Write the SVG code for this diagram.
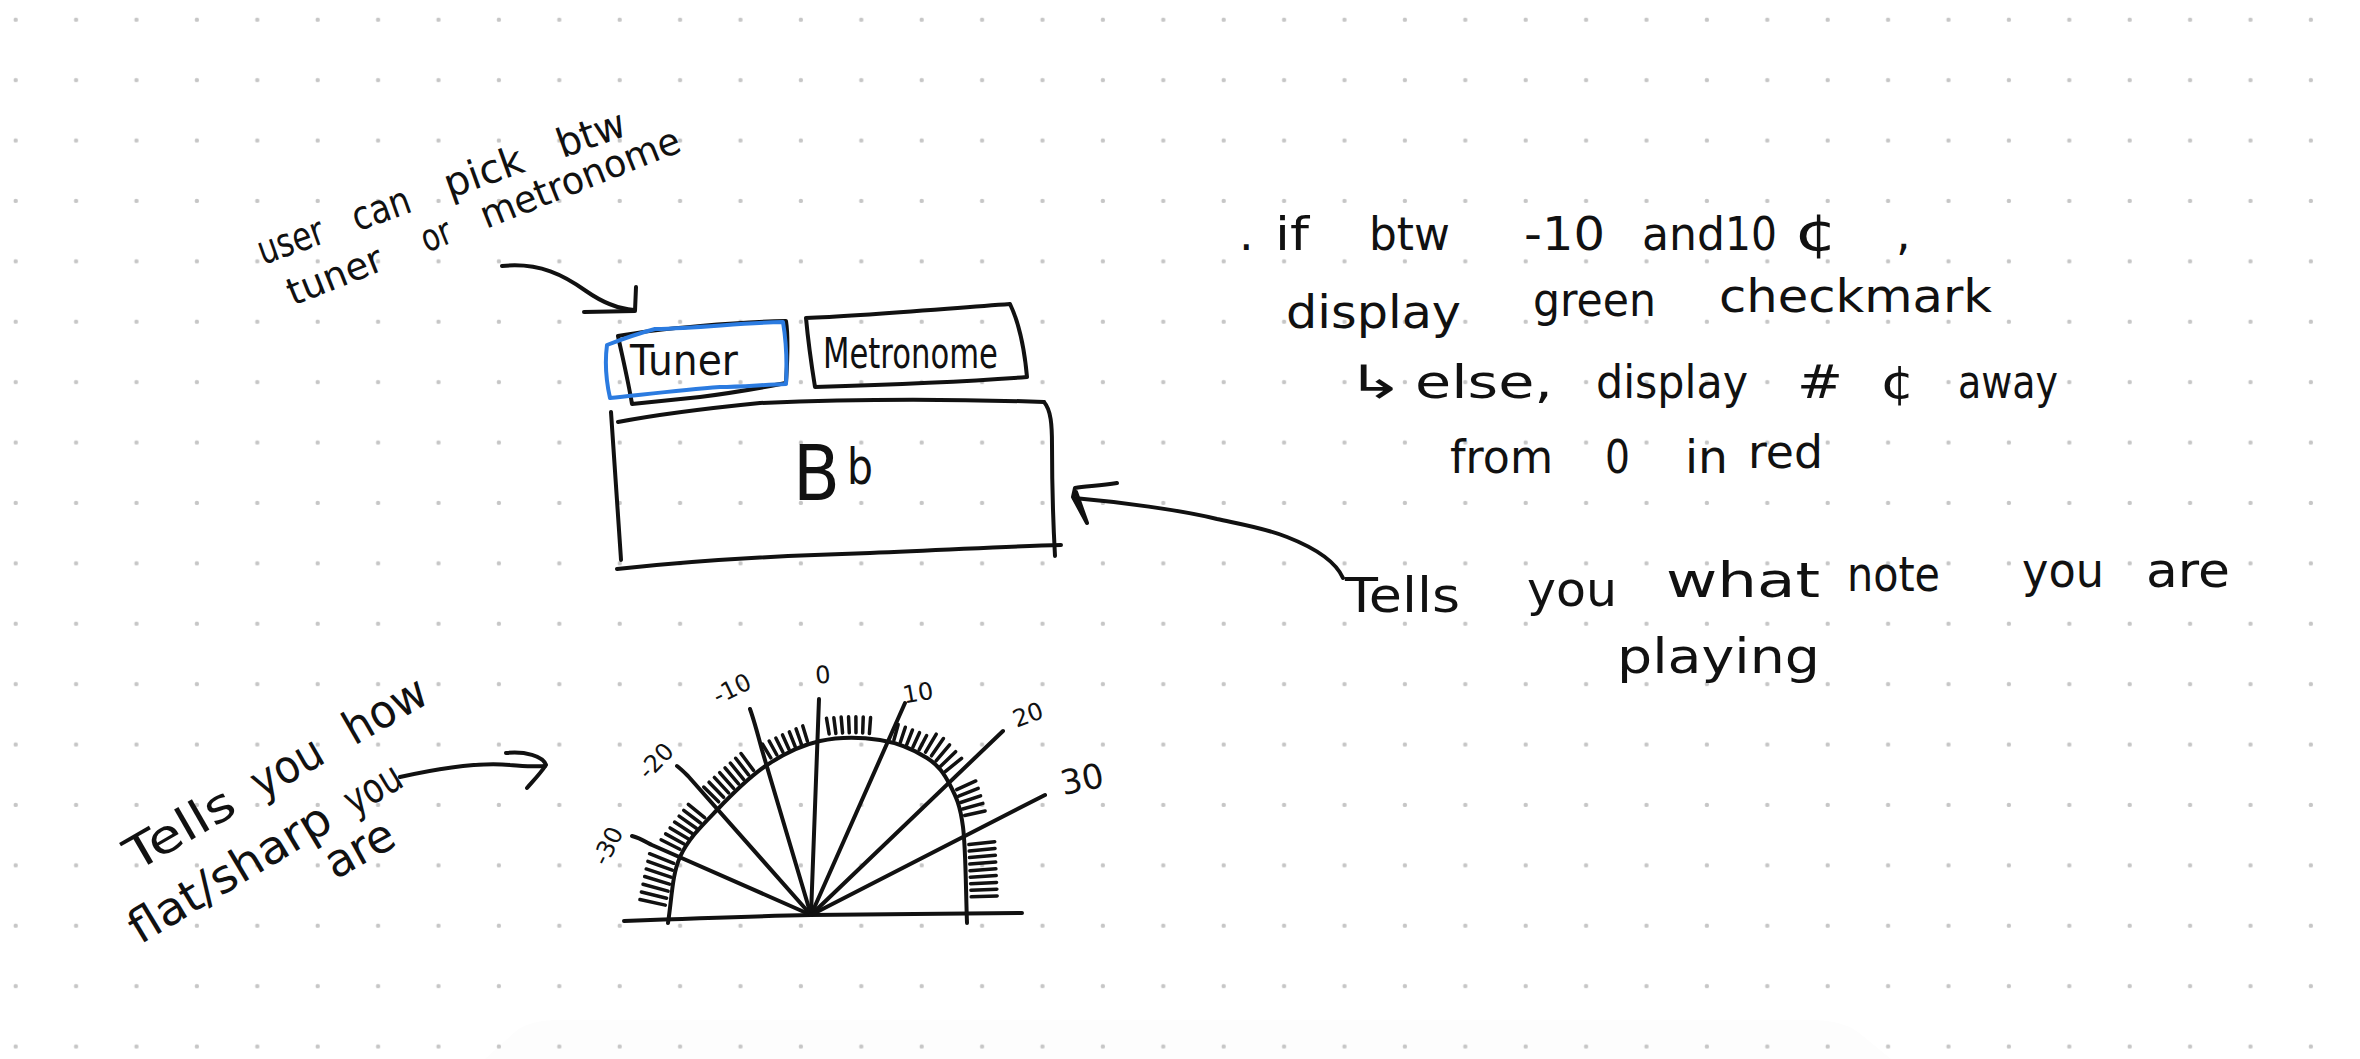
<svg xmlns="http://www.w3.org/2000/svg" width="2360" height="1059" viewBox="0 0 2360 1059">
<defs>
<pattern id="dots" width="60.4" height="60.4" patternUnits="userSpaceOnUse"><circle cx="15.7" cy="19.7" r="2.2" fill="#c6c6c6"/></pattern>
<line id="tkS" class="tick" x1="0" y1="-5" x2="0" y2="-21"/>
<line id="tkM" class="tick" x1="0" y1="-5" x2="0" y2="-26"/>
<line id="tkL" class="tick" x1="0" y1="-5" x2="0" y2="-31"/>
</defs>
<style>
.ink{fill:none;stroke:#111;stroke-width:4;stroke-linecap:round;stroke-linejoin:round}
.blue{fill:none;stroke:#2b7be0;stroke-width:4;stroke-linecap:round;stroke-linejoin:round}
.tick{stroke:#111;stroke-width:3.5;stroke-linecap:round}
.hw{font-family:"DejaVu Sans","Liberation Sans",sans-serif;fill:#111}
</style>
<rect width="2360" height="1059" fill="#ffffff"/>
<path d="M485,1059 L515,1032 Q528,1020 560,1020 L1810,1020 Q1842,1020 1858,1032 L1891,1059 Z" fill="#fdfdfd"/>
<rect width="2360" height="1059" fill="url(#dots)"/>

<g id="note-user-pick">
<text class="hw" font-size="40" transform="translate(263,265) rotate(-19.6)"><tspan x="0" textLength="68" lengthAdjust="spacingAndGlyphs">user</tspan> <tspan x="100" textLength="60" lengthAdjust="spacingAndGlyphs">can</tspan> <tspan x="198" textLength="82" lengthAdjust="spacingAndGlyphs">pick</tspan> <tspan x="318" textLength="70" lengthAdjust="spacingAndGlyphs">btw</tspan></text>
<text class="hw" font-size="38" transform="translate(293,306) rotate(-21.7)"><tspan x="0" textLength="100" lengthAdjust="spacingAndGlyphs">tuner</tspan> <tspan x="144" textLength="30" lengthAdjust="spacingAndGlyphs">or</tspan> <tspan x="208" textLength="212" lengthAdjust="spacingAndGlyphs">metronome</tspan></text>
</g>

<g id="tab-tuner">
<path class="ink" d="M618,336 C660,328 740,322 786,321 C789,340 787,365 786,383 C760,388 740,392 700,397 C670,400 650,402 632,404 C628,380 622,355 618,336"/>
<path class="blue" d="M607,345 C625,338 640,333 655,329 C700,328 740,323 783,322 C786,340 787,365 786,384 C760,385 740,387 720,387 C680,390 640,395 610,398 C606,380 605,360 607,345 Z"/>
<text class="hw" x="630" y="375" font-size="42" textLength="108" lengthAdjust="spacingAndGlyphs">Tuner</text>
</g>

<g id="tab-metronome">
<path class="ink" d="M806,318 C860,316 940,309 1010,304 C1020,325 1025,355 1027,377 C960,382 880,385 815,387 C811,362 808,340 806,318"/>
<text class="hw" x="823" y="368" font-size="43" textLength="175" lengthAdjust="spacingAndGlyphs">Metronome</text>
</g>

<g id="note-display">
<path class="ink" d="M618,422 C660,414 700,409 760,403 C850,399 960,399 1044,402"/>
<path class="ink" d="M1044,402 C1051,410 1052,425 1052,445 C1052,485 1053,520 1055,556"/>
<path class="ink" d="M611,412 C614,460 618,510 621,560"/>
<path class="ink" d="M617,569 C700,560 800,555 870,553 C950,550 1010,546 1061,545"/>
<text class="hw" y="500"><tspan x="793" font-size="76" textLength="47" lengthAdjust="spacingAndGlyphs">B</tspan><tspan x="847" y="484" font-size="50" textLength="26" lengthAdjust="spacingAndGlyphs">b</tspan></text>
</g>

<g id="gauge">
<path class="ink" d="M624,921 C700,918 760,916 811,915 L1022,913"/>
<path class="ink" d="M668,923 C672,897 672,875 680,857 C688,839 702.5,825 717,810 C731.5,794.7 749.8,776.5 767,765 C784.2,753.5 801.2,745.2 820,741 C838.8,736.8 862.2,737.2 880,740 C897.8,742.8 915.3,750.5 927,758 C938.7,765.5 944,773.5 950,785 C956,796.5 960.2,805 963,827 C965.8,849 965.7,887 967,923"/>
<path class="ink" d="M632,836 C640,838 646,842 652,845 L811,915"/>
<path class="ink" d="M677,766 C681,769 684,772 688,776 L811,915"/>
<path class="ink" d="M750,709 C754,720 758,735 762,750 L811,915"/>
<path class="ink" d="M819,699 L816,780 L811,915"/>
<path class="ink" d="M905,703 L811,915"/>
<path class="ink" d="M1003,731 L811,915"/>
<path class="ink" d="M1045,795 L811,915"/>
<g id="gauge-ticks">
<use href="#tkL" transform="translate(670.2,906.2) rotate(-77.6)"/>
<use href="#tkL" transform="translate(671.5,899.4) rotate(-76.1)"/>
<use href="#tkL" transform="translate(672.9,892.5) rotate(-74.6)"/>
<use href="#tkL" transform="translate(674.3,885.6) rotate(-73)"/>
<use href="#tkL" transform="translate(675.6,878.8) rotate(-71.5)"/>
<use href="#tkL" transform="translate(677,871.9) rotate(-70)"/>
<use href="#tkL" transform="translate(678.4,865.1) rotate(-68.5)"/>
<use href="#tkM" transform="translate(684.3,851.5) rotate(-63.2)"/>
<use href="#tkM" transform="translate(688.4,846.4) rotate(-61.2)"/>
<use href="#tkM" transform="translate(692.4,841.3) rotate(-59.1)"/>
<use href="#tkM" transform="translate(696.4,836.2) rotate(-57.1)"/>
<use href="#tkM" transform="translate(700.4,831.1) rotate(-55)"/>
<use href="#tkM" transform="translate(704.5,826) rotate(-53)"/>
<use href="#tkM" transform="translate(708.5,820.8) rotate(-50.9)"/>
<use href="#tkM" transform="translate(722.2,805.3) rotate(-45.3)"/>
<use href="#tkM" transform="translate(727.1,800.9) rotate(-44)"/>
<use href="#tkM" transform="translate(732,796.5) rotate(-42.8)"/>
<use href="#tkM" transform="translate(736.9,792.1) rotate(-41.5)"/>
<use href="#tkM" transform="translate(741.8,787.7) rotate(-40.2)"/>
<use href="#tkM" transform="translate(746.7,783.2) rotate(-39)"/>
<use href="#tkM" transform="translate(751.6,778.8) rotate(-37.7)"/>
<use href="#tkM" transform="translate(756.5,774.4) rotate(-36.5)"/>
<use href="#tkS" transform="translate(773.4,762.1) rotate(-31.2)"/>
<use href="#tkS" transform="translate(779.3,759.4) rotate(-28.9)"/>
<use href="#tkS" transform="translate(785.2,756.8) rotate(-26.5)"/>
<use href="#tkS" transform="translate(791.1,754.1) rotate(-24.1)"/>
<use href="#tkS" transform="translate(797.1,751.4) rotate(-21.7)"/>
<use href="#tkS" transform="translate(803,748.7) rotate(-19.3)"/>
<use href="#tkS" transform="translate(808.9,746) rotate(-17)"/>
<use href="#tkS" transform="translate(830,739) rotate(-9.6)"/>
<use href="#tkS" transform="translate(836.5,738.5) rotate(-7.3)"/>
<use href="#tkS" transform="translate(843,738) rotate(-5)"/>
<use href="#tkS" transform="translate(849.5,737.8) rotate(-2.6)"/>
<use href="#tkS" transform="translate(856,737.8) rotate(-0.3)"/>
<use href="#tkS" transform="translate(862.5,738) rotate(2)"/>
<use href="#tkS" transform="translate(869,738.5) rotate(4.3)"/>
<use href="#tkS" transform="translate(892.6,744.8) rotate(15.4)"/>
<use href="#tkS" transform="translate(898.7,747.2) rotate(18.4)"/>
<use href="#tkS" transform="translate(904.8,749.5) rotate(21.5)"/>
<use href="#tkS" transform="translate(910.8,751.8) rotate(24.5)"/>
<use href="#tkS" transform="translate(916.9,754.1) rotate(27.6)"/>
<use href="#tkM" transform="translate(923,756.5) rotate(30.7)"/>
<use href="#tkM" transform="translate(928.6,759.9) rotate(34.8)"/>
<use href="#tkM" transform="translate(932.8,764.8) rotate(40.2)"/>
<use href="#tkM" transform="translate(937,769.8) rotate(45.7)"/>
<use href="#tkM" transform="translate(941.3,774.7) rotate(51.1)"/>
<use href="#tkM" transform="translate(952.1,791.7) rotate(65.6)"/>
<use href="#tkM" transform="translate(954,797.9) rotate(68.6)"/>
<use href="#tkM" transform="translate(955.9,804.1) rotate(71.6)"/>
<use href="#tkM" transform="translate(957.8,810.3) rotate(74.6)"/>
<use href="#tkM" transform="translate(959.7,816.5) rotate(77.6)"/>
<use href="#tkL" transform="translate(963.9,845) rotate(84)"/>
<use href="#tkL" transform="translate(964.2,851.5) rotate(84.5)"/>
<use href="#tkL" transform="translate(964.5,858) rotate(85)"/>
<use href="#tkL" transform="translate(964.8,864.5) rotate(85.5)"/>
<use href="#tkL" transform="translate(965,871) rotate(86)"/>
<use href="#tkL" transform="translate(965.3,877.5) rotate(86.5)"/>
<use href="#tkL" transform="translate(965.6,884) rotate(87)"/>
<use href="#tkL" transform="translate(965.9,890.5) rotate(87.5)"/>
<use href="#tkL" transform="translate(966.2,897) rotate(88)"/>
</g>
<g id="gauge-labels" class="hw" text-anchor="middle">
<text font-size="24" transform="translate(608,846) rotate(-63)" y="8">-30</text>
<text font-size="24" transform="translate(656,761) rotate(-46)" y="8">-20</text>
<text font-size="24" transform="translate(732,689) rotate(-26)" y="8">-10</text>
<text font-size="24" transform="translate(823,675) rotate(-5)" y="8">0</text>
<text font-size="24" transform="translate(918,693) rotate(-10)" y="8">10</text>
<text font-size="24" transform="translate(1028,715) rotate(-20)" y="8">20</text>
<text font-size="34" transform="translate(1082,779) rotate(-12)" y="12">30</text>
</g>
</g>

<g id="note-flat-sharp" class="hw" font-size="46">
<text transform="translate(136,872) rotate(-30)"><tspan x="0" textLength="119" lengthAdjust="spacingAndGlyphs">Tells</tspan> <tspan x="145" textLength="76" lengthAdjust="spacingAndGlyphs">you</tspan> <tspan x="252" textLength="89" lengthAdjust="spacingAndGlyphs">how</tspan></text>
<text transform="translate(140,945) rotate(-31)"><tspan x="0" textLength="228" lengthAdjust="spacingAndGlyphs">flat/sharp</tspan> <tspan x="250" textLength="60" lengthAdjust="spacingAndGlyphs" font-size="42">you</tspan></text>
<text transform="translate(335,880) rotate(-29)" textLength="73" lengthAdjust="spacingAndGlyphs">are</text>
</g>

<g id="note-condition" class="hw" font-size="46">
<text y="250"><tspan x="1239">.</tspan><tspan x="1275" textLength="34" lengthAdjust="spacingAndGlyphs">if</tspan> <tspan x="1369" textLength="81" lengthAdjust="spacingAndGlyphs">btw</tspan> <tspan x="1524" textLength="81" lengthAdjust="spacingAndGlyphs">-10</tspan> <tspan x="1642" textLength="83" lengthAdjust="spacingAndGlyphs">and</tspan><tspan x="1725" textLength="52" lengthAdjust="spacingAndGlyphs">10</tspan> <tspan x="1794" font-size="52" textLength="44" lengthAdjust="spacingAndGlyphs">¢</tspan> <tspan x="1896">,</tspan></text>
<text><tspan x="1286" y="328" textLength="175" lengthAdjust="spacingAndGlyphs">display</tspan> <tspan x="1533" y="316" textLength="123" lengthAdjust="spacingAndGlyphs">green</tspan> <tspan x="1719" y="312" textLength="273" lengthAdjust="spacingAndGlyphs">checkmark</tspan></text>
<text y="398"><tspan x="1346" textLength="58" lengthAdjust="spacingAndGlyphs">↳</tspan><tspan x="1415" textLength="138" lengthAdjust="spacingAndGlyphs">else,</tspan> <tspan x="1596" textLength="152" lengthAdjust="spacingAndGlyphs">display</tspan> <tspan x="1797" textLength="46" lengthAdjust="spacingAndGlyphs">#</tspan> <tspan x="1880" textLength="35" lengthAdjust="spacingAndGlyphs">¢</tspan> <tspan x="1958" textLength="100" lengthAdjust="spacingAndGlyphs">away</tspan></text>
<text y="473"><tspan x="1450" textLength="103" lengthAdjust="spacingAndGlyphs">from</tspan> <tspan x="1605" textLength="25" lengthAdjust="spacingAndGlyphs">0</tspan> <tspan x="1685" textLength="43" lengthAdjust="spacingAndGlyphs">in</tspan> <tspan x="1748" y="468" textLength="75" lengthAdjust="spacingAndGlyphs">red</tspan></text>
</g>

<g id="note-what-note" class="hw" font-size="48">
<text><tspan x="1345" y="612" textLength="115" lengthAdjust="spacingAndGlyphs">Tells</tspan> <tspan x="1527" y="606" textLength="90" lengthAdjust="spacingAndGlyphs">you</tspan> <tspan x="1666" y="597" textLength="154" lengthAdjust="spacingAndGlyphs">what</tspan> <tspan x="1847" y="591" textLength="93" lengthAdjust="spacingAndGlyphs">note</tspan> <tspan x="2022" y="587" textLength="82" lengthAdjust="spacingAndGlyphs">you</tspan> <tspan x="2146" y="587" textLength="84" lengthAdjust="spacingAndGlyphs">are</tspan></text>
<text x="1617" y="673" textLength="203" lengthAdjust="spacingAndGlyphs">playing</text>
</g>

<g id="connectors">
<path class="ink" d="M502,266 C540,262 565,276 586,291 C606,305 620,309 634,310"/>
<path class="ink" stroke-width="5" d="M584,312 L635,311 M636,287 L635,311"/>
<path class="ink" d="M400,777 C440,768 480,762 510,765 C525,766 535,767 545,766"/>
<path class="ink" d="M506,753 C525,751 543,756 546,765 C540,774 533,781 527,788"/>
<path class="ink" d="M1343,578 C1335,560 1310,546 1287,537 C1265,528 1240,524 1217,519 C1180,510 1120,502 1074,498"/>
<path class="ink" d="M1117,483 C1100,486 1085,486 1075,488 L1073,497 L1087,523 L1076,492"/>
</g>
</svg>
